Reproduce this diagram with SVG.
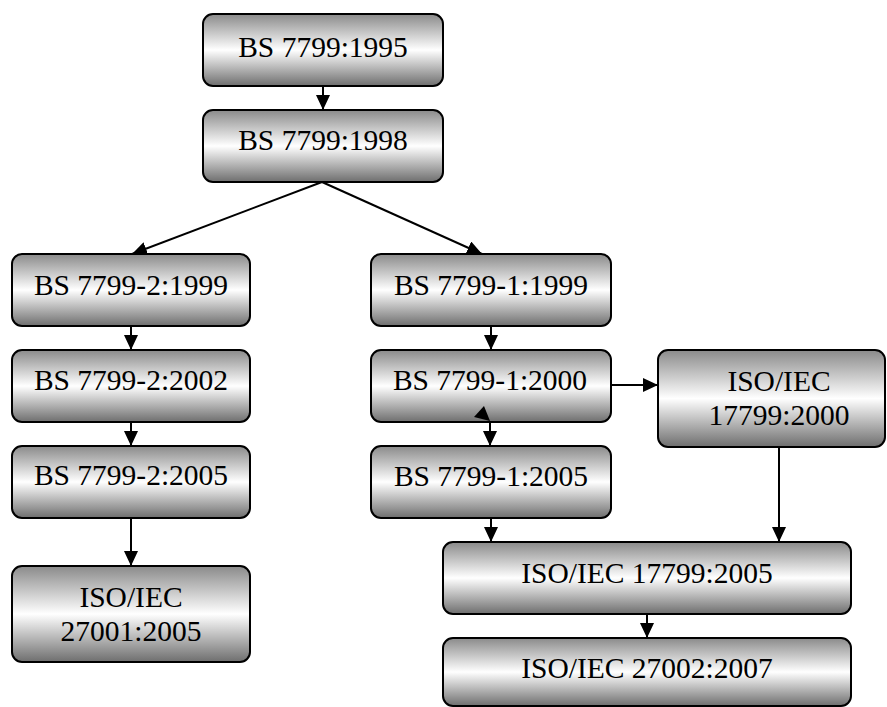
<svg xmlns="http://www.w3.org/2000/svg" width="887" height="707" viewBox="0 0 887 707">
  <style>
    .box { fill: url(#shade); stroke: #000; stroke-width: 2; }
    .lbl { font-family: "Liberation Serif", "Times New Roman", "DejaVu Serif", serif; font-size: 29.5px; fill: #000; text-anchor: middle; }
    .edge { stroke: #000; stroke-width: 2; fill: none; marker-end: url(#head); }
  </style>
  <defs>
    <linearGradient id="shade" x1="0" y1="0" x2="0" y2="1">
      <stop offset="0" stop-color="#8a8a8a"/>
      <stop offset="0.5" stop-color="#ffffff"/>
      <stop offset="1" stop-color="#6e6e6e"/>
    </linearGradient>
    <marker id="head" viewBox="0 0 15 14" refX="15" refY="7" markerWidth="15" markerHeight="14" markerUnits="userSpaceOnUse" orient="auto">
      <path d="M0,0 L15,7 L0,14 Z" fill="#000"/>
    </marker>
  </defs>

  <g id="connectors">
    <line class="edge" x1="323" y1="86" x2="323" y2="110"/>
    <line class="edge" x1="322" y1="182" x2="132" y2="254"/>
    <line class="edge" x1="322" y1="182" x2="482" y2="254"/>
    <line class="edge" x1="131" y1="326" x2="131" y2="350"/>
    <line class="edge" x1="131" y1="422" x2="131" y2="446"/>
    <line class="edge" x1="131" y1="518" x2="131" y2="566"/>
    <line class="edge" x1="491" y1="326" x2="491" y2="350"/>
    <line class="edge" x1="490" y1="422" x2="490" y2="446"/>
    <line class="edge" x1="611" y1="385" x2="658" y2="385"/>
    <line class="edge" x1="491" y1="518" x2="491" y2="542"/>
    <line class="edge" x1="779" y1="447" x2="779" y2="542"/>
    <line class="edge" x1="647" y1="614" x2="647" y2="638"/>
  </g>

  <g id="n1995">
    <rect class="box" x="203" y="14" width="240" height="72" rx="10"/>
    <text class="lbl" x="323" y="57">BS 7799:1995</text>
  </g>
  <g id="n1998">
    <rect class="box" x="203" y="110" width="240" height="72" rx="10"/>
    <text class="lbl" x="323" y="150">BS 7799:1998</text>
  </g>

  <g id="n2-1999">
    <rect class="box" x="12" y="254" width="238" height="72" rx="10"/>
    <text class="lbl" x="131" y="295">BS 7799-2:1999</text>
  </g>
  <g id="n2-2002">
    <rect class="box" x="12" y="350" width="238" height="72" rx="10"/>
    <text class="lbl" x="131" y="390">BS 7799-2:2002</text>
  </g>
  <g id="n2-2005">
    <rect class="box" x="12" y="446" width="238" height="72" rx="10"/>
    <text class="lbl" x="131" y="485">BS 7799-2:2005</text>
  </g>
  <g id="n27001">
    <rect class="box" x="12" y="566" width="238" height="96" rx="10"/>
    <text class="lbl" x="131" y="607">ISO/IEC</text>
    <text class="lbl" x="131" y="641">27001:2005</text>
  </g>

  <g id="n1-1999">
    <rect class="box" x="371" y="254" width="240" height="72" rx="10"/>
    <text class="lbl" x="491" y="295">BS 7799-1:1999</text>
  </g>
  <g id="n1-2000">
    <rect class="box" x="371" y="350" width="240" height="72" rx="10"/>
    <text class="lbl" x="490" y="390">BS 7799-1:2000</text>
    <!-- stray arrowhead sitting on the lower edge -->
    <polygon points="484,406 474,417 490,421" fill="#000"/>
  </g>
  <g id="n1-2005">
    <rect class="box" x="371" y="446" width="240" height="72" rx="10"/>
    <text class="lbl" x="491" y="486">BS 7799-1:2005</text>
  </g>
  <g id="n17799-2000">
    <rect class="box" x="658" y="350" width="227" height="97" rx="10"/>
    <text class="lbl" x="779" y="391">ISO/IEC</text>
    <text class="lbl" x="779" y="425">17799:2000</text>
  </g>
  <g id="n17799-2005">
    <rect class="box" x="443" y="542" width="408" height="72" rx="10"/>
    <text class="lbl" x="647" y="583">ISO/IEC 17799:2005</text>
  </g>
  <g id="n27002">
    <rect class="box" x="443" y="638" width="408" height="68" rx="10"/>
    <text class="lbl" x="647" y="678">ISO/IEC 27002:2007</text>
  </g>
</svg>
